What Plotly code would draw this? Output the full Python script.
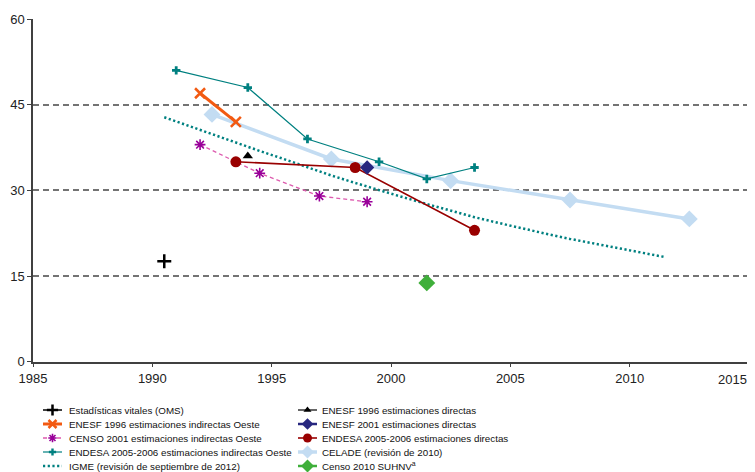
import plotly.graph_objects as go

# ---------------- data ----------------
ev_x = [1990.5]
ev_y = [17.6]

enesf96_dir_x = [1994.0]
enesf96_dir_y = [36.0]

enesf96_ind_x = [1992.0, 1993.5]
enesf96_ind_y = [47.0, 42.0]

enesf01_dir_x = [1999.0]
enesf01_dir_y = [34.0]

censo01_x = [1992.0, 1994.5, 1997.0, 1999.0]
censo01_y = [38.0, 33.0, 29.0, 28.0]

endesa_dir_x = [1993.5, 1998.5, 2003.5]
endesa_dir_y = [35.0, 34.0, 23.0]

endesa_ind_x = [1991.0, 1994.0, 1996.5, 1999.5, 2001.5, 2003.5]
endesa_ind_y = [51.0, 48.0, 39.0, 35.0, 32.0, 34.0]

celade_x = [1992.5, 1997.5, 2002.5, 2007.5, 2012.5]
celade_y = [43.3, 35.5, 31.7, 28.3, 25.0]

igme_x = [1990.5, 1991.5, 1992.5, 1993.5, 1994.5, 1995.5, 1996.5, 1997.5,
          1998.5, 1999.5, 2000.5, 2001.5, 2002.5, 2003.5, 2004.5, 2005.5,
          2006.5, 2007.5, 2008.5, 2009.5, 2010.5, 2011.5]
igme_y = [42.8, 41.3, 39.8, 38.3, 36.9, 35.5, 34.0, 32.6,
          31.3, 30.0, 28.8, 27.6, 26.4, 25.3, 24.3, 23.3,
          22.4, 21.5, 20.7, 19.9, 19.1, 18.3]

censo10_x = [2001.5]
censo10_y = [13.8]

x_ticks = [1985, 1990, 1995, 2000, 2005, 2010, 2015]
y_ticks = [0, 15, 30, 45, 60]

labels = {
    "ev": "Estadísticas vitales (OMS)",
    "e96d": "ENESF 1996 estimaciones directas",
    "e96i": "ENESF 1996 estimaciones indirectas Oeste",
    "e01d": "ENESF 2001 estimaciones directas",
    "c01": "CENSO 2001 estimaciones indirectas Oeste",
    "endd": "ENDESA 2005-2006 estimaciones directas",
    "endi": "ENDESA 2005-2006 estimaciones indirectas Oeste",
    "cel": "CELADE (revisión de 2010)",
    "igme": "IGME (revisión de septiembre de 2012)",
    "c10": "Censo 2010 SUHNV<sup>a</sup>",
}

# ---------------- layout helpers ----------------
OFF = 8                      # default page (body) margin of the html page
W, H = 755 - OFF, 472 - OFF  # figure size so that it fits the window
PX_L, PX_R = 33 - OFF, 749 - OFF
PX_T, PX_B = 19 - OFF, 361.7 - OFF

FONT = "Liberation Sans, Arial, sans-serif"
TICKFONT = "Liberation Sans, Arial, sans-serif"

ORANGE = "#F25A12"
PINK = "#DD5AAE"
PURPLE = "#990099"
TEAL = "#008080"
DARKRED = "#990000"
NAVY = "#27277F"
LIGHTBLUE = "#C3DCF2"
GREEN = "#3FAF3A"

series = [
    # key, x, y, line, marker, legend column, legend row
    ("ev", ev_x, ev_y, dict(color="black", width=1.5),
     dict(symbol="cross-thin", size=10, color="black", line=dict(width=2.5, color="black")), 0, 0),
    ("e96i", enesf96_ind_x, enesf96_ind_y, dict(color=ORANGE, width=3),
     dict(symbol="x-thin", size=10, color=ORANGE, line=dict(width=2.5, color=ORANGE)), 0, 1),
    ("c01", censo01_x, censo01_y, dict(color=PINK, width=1.3, dash="4px,3px"),
     dict(symbol="asterisk", size=9, color=PURPLE, line=dict(width=1.6, color=PURPLE)), 0, 2),
    ("endi", endesa_ind_x, endesa_ind_y, dict(color=TEAL, width=1.2),
     dict(symbol="cross", size=7, color=TEAL), 0, 3),
    ("igme", igme_x, igme_y, dict(color=TEAL, width=2.5, dash="2.2px,2.5px"), None, 0, 4),
    ("e96d", enesf96_dir_x, enesf96_dir_y, dict(color="#333333", width=1.5),
     dict(symbol="triangle-up", size=9, color="black"), 1, 0),
    ("e01d", enesf01_dir_x, enesf01_dir_y, dict(color=NAVY, width=2.5),
     dict(symbol="diamond", size=11, color=NAVY), 1, 1),
    ("endd", endesa_dir_x, endesa_dir_y, dict(color=DARKRED, width=1.6),
     dict(symbol="circle", size=11, color=DARKRED), 1, 2),
    ("cel", celade_x, celade_y, dict(color=LIGHTBLUE, width=3.5),
     dict(symbol="diamond", size=13, color=LIGHTBLUE), 1, 3),
    ("c10", censo10_x, censo10_y, dict(color=GREEN, width=2.5),
     dict(symbol="diamond", size=13, color=GREEN), 1, 4),
]

draw_order = ["igme", "cel", "c01", "endi", "e96i", "endd", "e01d", "e96d", "ev", "c10"]

fig = go.Figure()

by_key = {s[0]: s for s in series}
for key in draw_order:
    k, xs, ys, line, marker, col, row = by_key[key]
    mode = "lines" if marker is None else ("lines+markers" if len(xs) > 1 else "markers")
    tr = dict(x=xs, y=ys, mode=mode, line=line, name=labels[k].replace("<sup>a</sup>", " a"),
              showlegend=False, xaxis="x", yaxis="y")
    if marker is not None:
        tr["marker"] = marker
    fig.add_trace(go.Scatter(**tr))

# manual legend drawn on a pixel-coordinate overlay axis
ROWS = [410 - OFF, 424 - OFF, 438 - OFF, 452 - OFF, 466 - OFF]
COLS = [(43 - OFF, 62 - OFF, 67 - OFF), (298 - OFF, 317 - OFF, 320 - OFF)]
annotations = []
for k, xs, ys, line, marker, col, row in series:
    x0, x1, tx = COLS[col]
    ry = ROWS[row]
    fig.add_trace(go.Scatter(x=[x0, x1], y=[ry, ry], mode="lines", line=line,
                             showlegend=False, hoverinfo="skip", xaxis="x2", yaxis="y2"))
    if marker is not None:
        lm = dict(marker)
        lm["size"] = max(6, round(marker["size"] * 0.78))
        fig.add_trace(go.Scatter(x=[(x0 + x1) / 2], y=[ry], mode="markers", marker=lm,
                                 showlegend=False, hoverinfo="skip", xaxis="x2", yaxis="y2"))
    annotations.append(dict(x=tx, y=ry, xref="x2", yref="y2", text=labels[k],
                            showarrow=False, xanchor="left", yanchor="middle",
                            font=dict(family=FONT, size=9.8, color="#111111")))

# last x tick label is right-aligned on its tick (as in the original)
tick_text = [str(t) for t in x_ticks]
tick_text[-1] = ""
annotations.append(dict(x=x_ticks[-1], y=379 - OFF, xref="x", yref="y2", text=str(x_ticks[-1]),
                        showarrow=False, xanchor="right", yanchor="middle",
                        font=dict(family=TICKFONT, size=13, color="#222222")))

fig.update_layout(
    width=W, height=H,
    margin=dict(l=0, r=0, t=0, b=0, pad=0),
    paper_bgcolor="white", plot_bgcolor="rgba(0,0,0,0)",
    showlegend=False,
    xaxis=dict(
        domain=[PX_L / W, PX_R / W], range=[1985, 2015],
        tickmode="array", tickvals=x_ticks, ticktext=tick_text,
        showgrid=False, zeroline=False,
        showline=True, linecolor="#404040", linewidth=1.5,
        ticks="outside", ticklen=4, tickcolor="#404040", tickwidth=1.2,
        tickfont=dict(family=TICKFONT, size=13, color="#222222"),
        anchor="y", automargin=False,
    ),
    yaxis=dict(
        domain=[1 - PX_B / H, 1 - PX_T / H], range=[0, 60],
        tickmode="array", tickvals=y_ticks, ticktext=[str(t) for t in y_ticks],
        showgrid=True, gridcolor="#737373", gridwidth=1.6, griddash="6px,4px",
        zeroline=False,
        showline=True, linecolor="#404040", linewidth=1.5,
        ticks="outside", ticklen=4, tickcolor="#404040", tickwidth=1.2,
        tickfont=dict(family=TICKFONT, size=13, color="#222222"),
        anchor="x", automargin=False,
    ),
    xaxis2=dict(domain=[0, 1], range=[0, W], visible=False, fixedrange=True,
                anchor="y2", automargin=False),
    yaxis2=dict(domain=[0, 1], range=[H, 0], visible=False, fixedrange=True,
                anchor="x2", automargin=False),
    annotations=annotations,
)

fig.write_html("out.html")
